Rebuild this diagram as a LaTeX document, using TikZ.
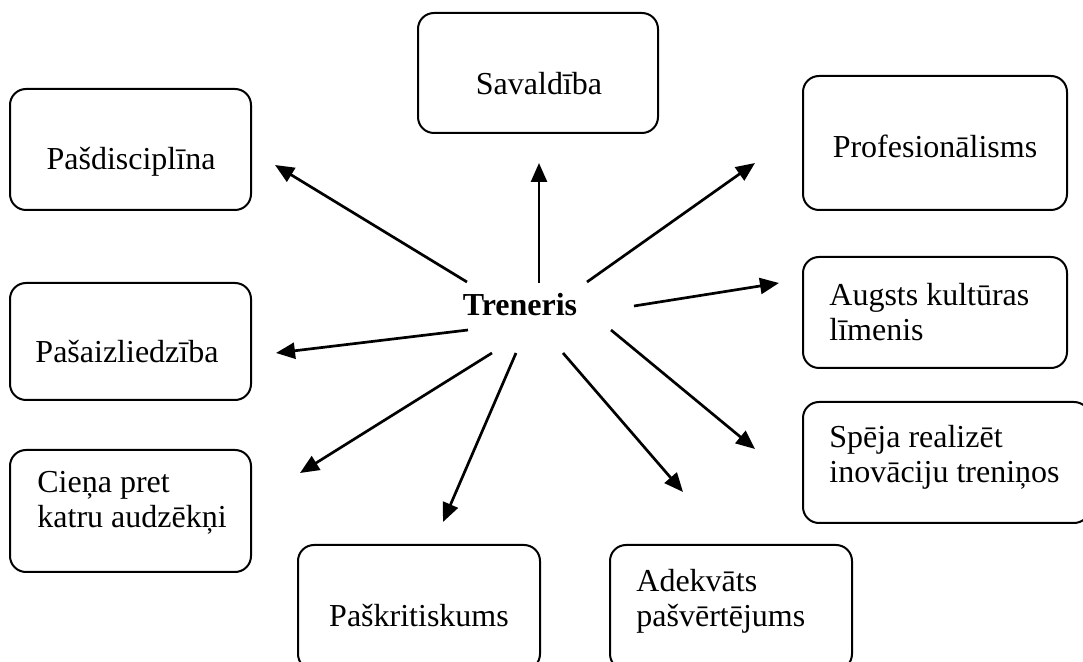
\documentclass[tikz,border=0pt]{standalone}
\usepackage{fontspec}
\setmainfont{Liberation Serif}
\usetikzlibrary{arrows.meta}
\begin{document}
\begin{tikzpicture}[x=0.5pt,y=-0.5pt,
  box/.style={draw,line width=1pt,rounded corners=8pt,inner sep=0pt,minimum width=#1},
  txt/.style={inner sep=0pt,font=\fontsize{16}{17.75}\selectfont,align=left},
  arr/.style={line width=1.35pt,-{Triangle[length=9.5pt,width=8pt]}}]
\useasboundingbox (0,0) rectangle (1083,662);
\clip (0,0) rectangle (1083,662);
% boxes
\node[box=120pt,minimum height=60pt] (sav) at (538,73) {};
\node[box=120.5pt,minimum height=60.5pt] (pdis) at (130.5,149.5) {};
\node[box=132pt,minimum height=67pt] (prof) at (935,143) {};
\node[box=132pt,minimum height=55.5pt] (augs) at (935,312.5) {};
\node[box=120.5pt,minimum height=58.5pt] (paiz) at (130.5,341.5) {};
\node[box=143.5pt,minimum height=60.5pt] (speja) at (946.5,462.5) {};
\node[box=120.5pt,minimum height=61pt] (cien) at (130.5,511) {};
\node[box=121pt,minimum height=62.5pt] (pkrit) at (419,607.5) {};
\node[box=121pt,minimum height=62.5pt] (adek) at (731,607.5) {};
% texts (multi-line nodes are anchored at the baseline of their last line)
\node[txt,anchor=base] (tsav) at (539,95) {Savaldība};
\node[txt,anchor=base] (tpdis) at (131,170) {Pašdisciplīna};
\node[txt,anchor=base] (tprof) at (935,158) {Profesionālisms};
\node[txt,anchor=base west] (taugs) at (829,341) {Augsts kultūras\\līmenis};
\node[txt,anchor=base] (tpaiz) at (127,363) {Pašaizliedzība};
\node[txt,anchor=base west] (tspeja) at (829,483) {Spēja realizēt\\inovāciju treniņos};
\node[txt,anchor=base west] (tcien) at (37,528) {Cieņa pret\\katru audzēkņi};
\node[txt,anchor=base] (tpkrit) at (419,627) {Paškritiskums};
\node[txt,anchor=base west] (tadek) at (636,627) {Adekvāts\\pašvērtējums};
\node[txt,anchor=base,font=\fontsize{16}{17.75}\selectfont\bfseries] (tr) at (520,316) {Treneris};
% arrow ends
\coordinate (s1) at (467,282); \coordinate (e1) at (275,165);
\coordinate (s2) at (539,283); \coordinate (e2) at (539,163);
\coordinate (s3) at (587,282); \coordinate (e3) at (755,163);
\coordinate (s4) at (634,306); \coordinate (e4) at (779,283);
\coordinate (s5) at (611,330); \coordinate (e5) at (755,449);
\coordinate (s6) at (563,353); \coordinate (e6) at (683,492);
\coordinate (s7) at (516,353); \coordinate (e7) at (443,522);
\coordinate (s8) at (492,353); \coordinate (e8) at (300,473);
\coordinate (s9) at (468,330); \coordinate (e9) at (276,353);
\foreach \i in {1,...,9} {\draw[arr] (s\i) -- (e\i);}
\end{tikzpicture}
\end{document}
